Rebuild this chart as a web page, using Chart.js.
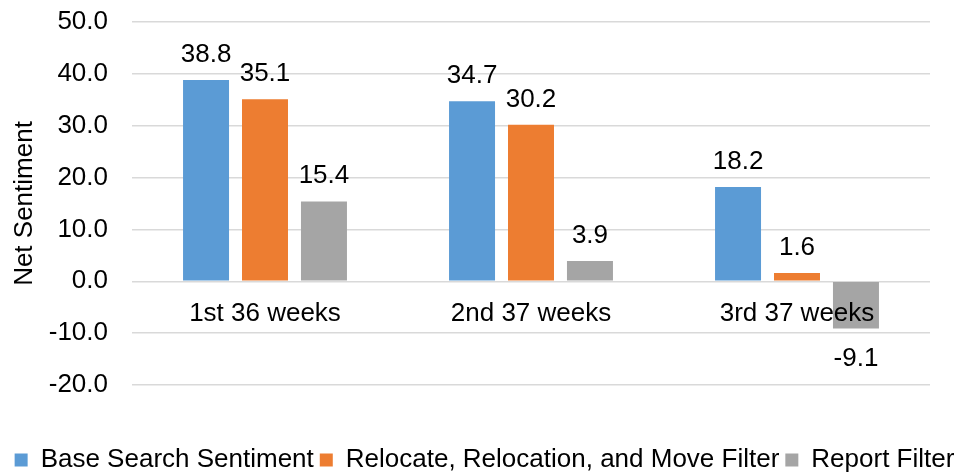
<!DOCTYPE html>
<html>
<head>
<meta charset="utf-8">
<script src="https://cdn.jsdelivr.net/npm/chart.js@4.4.0/dist/chart.umd.min.js"></script>
<style>
  html, body { margin: 0; padding: 0; background: #fff; }
</style>
</head>
<body>
<canvas id="chart" width="969" height="475"></canvas>
<script>
// data
const categories = ['1st 36 weeks', '2nd 37 weeks', '3rd 37 weeks'];
const seriesNames = ['Base Search Sentiment', 'Relocate, Relocation, and Move Filter', 'Report Filter'];
const baseSearch = [38.8, 34.7, 18.2];
const relocateFilter = [35.1, 30.2, 1.6];
const reportFilter = [15.4, 3.9, -9.1];
const yTicks = [-20, -10, 0, 10, 20, 30, 40, 50];

const colors = ['#5B9BD5', '#ED7D31', '#A5A5A5'];
const FONT = '"Liberation Sans", Arial, sans-serif';

Chart.defaults.font.family = FONT;
Chart.defaults.font.size = 26;
Chart.defaults.color = '#000';

// numbers above (or below, if negative) each bar
const valueLabels = {
  id: 'valueLabels',
  afterDatasetsDraw(chart) {
    const ctx = chart.ctx;
    ctx.save();
    ctx.font = '26px ' + FONT;
    ctx.fillStyle = '#000';
    ctx.textAlign = 'center';
    ctx.textBaseline = 'alphabetic';
    chart.data.datasets.forEach((ds, i) => {
      chart.getDatasetMeta(i).data.forEach((bar, j) => {
        const v = ds.data[j];
        const y = v >= 0 ? bar.y - 18 : bar.y + 38;
        ctx.fillText(v.toFixed(1), bar.x, y);
      });
    });
    ctx.restore();
  }
};

const allSeries = [baseSearch, relocateFilter, reportFilter];

new Chart(document.getElementById('chart'), {
  type: 'bar',
  data: {
    labels: categories,
    datasets: allSeries.map((d, i) => ({
      label: seriesNames[i],
      data: d,
      backgroundColor: colors[i],
      categoryPercentage: 0.665,
      barPercentage: 0.78
    }))
  },
  options: {
    responsive: false,
    animation: false,
    layout: { padding: { top: 22, left: 0, right: 0, bottom: -8 } },
    plugins: {
      tooltip: { enabled: false },
      legend: {
        position: 'bottom',
        labels: { boxWidth: 13, boxHeight: 13, padding: 6, color: '#000', font: { size: 26 } }
      }
    },
    scales: {
      x: {
        position: { y: 0 },
        grid: { display: false, drawTicks: false },
        border: { display: false },
        // category names sit on top of the bars
        ticks: { padding: 17, maxRotation: 0, autoSkip: false, z: 1 }
      },
      y: {
        min: Math.min(...yTicks),
        max: Math.max(...yTicks),
        ticks: { stepSize: 10, padding: 24, callback: v => v.toFixed(1) },
        grid: { color: '#d9d9d9', lineWidth: 1.5, drawTicks: false },
        border: { display: false },
        title: { display: true, text: 'Net Sentiment', padding: { top: 9, bottom: 0 } },
        afterFit(s) {
          s.width = 132;
          s.paddingTop = 0;
          s.paddingBottom = 0;
        }
      },
      // empty room between plot and legend, and on the right
      gap: {
        type: 'category', position: 'bottom',
        grid: { display: false, drawTicks: false }, border: { display: false },
        ticks: { display: false },
        afterFit(s) { s.height = 56; }
      },
      edge: {
        type: 'linear', position: 'right',
        grid: { display: false, drawTicks: false }, border: { display: false },
        ticks: { display: false },
        afterFit(s) { s.width = 39; }
      }
    }
  },
  plugins: [valueLabels]
});
</script>
</body>
</html>
